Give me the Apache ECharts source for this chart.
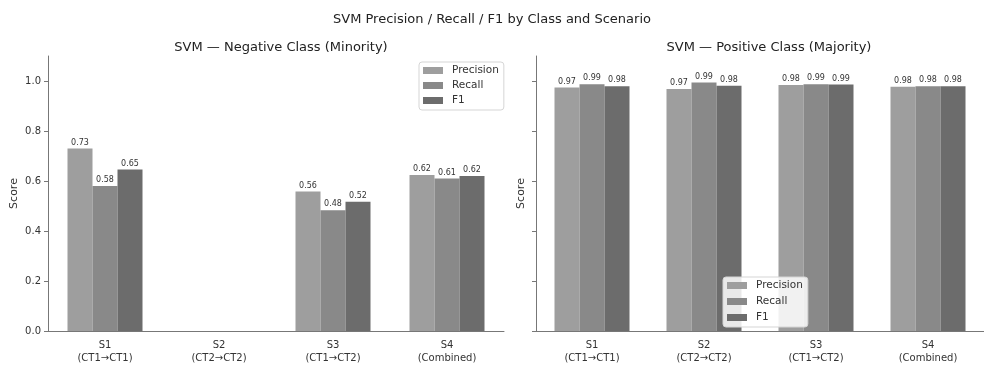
<!DOCTYPE html>
<html>
<head>
<meta charset="utf-8">
<script src="https://cdn.jsdelivr.net/npm/echarts@6/dist/echarts.min.js"></script>
<style>
html,body{margin:0;padding:0;background:#fff;}
#chart{width:984px;height:365px;}
</style>
</head>
<body>
<div id="chart"></div>
<script>
const categories = ['S1\n(CT1→CT1)', 'S2\n(CT2→CT2)', 'S3\n(CT1→CT2)', 'S4\n(Combined)'];
const metricNames = ['Precision', 'Recall', 'F1'];
const negPrecision = [0.73, null, 0.558, 0.624];
const negRecall = [0.58, null, 0.483, 0.61];
const negF1 = [0.646, null, 0.517, 0.62];
const posPrecision = [0.974, 0.968, 0.984, 0.977];
const posRecall = [0.987, 0.994, 0.987, 0.979];
const posF1 = [0.979, 0.981, 0.986, 0.979];
const yTicks = [0, 0.2, 0.4, 0.6, 0.8, 1.0];

const colors = ['#9e9e9e', '#898989', '#6c6c6c'];
const FONT = 'DejaVu Sans';
const textColor = '#333';
const axisColor = '#777';

function barSeries(name, data, idx, color) {
  return {
    name: name, type: 'bar', data: data,
    xAxisIndex: idx, yAxisIndex: idx,
    barWidth: 25, barGap: '0%',
    itemStyle: { color: color },
    label: {
      show: true, position: 'top', distance: 2,
      fontFamily: FONT, fontSize: 8, color: textColor,
      formatter: p => (p.value == null ? '' : Number(p.value).toFixed(2))
    },
    emphasis: { disabled: true }
  };
}

function xAxis(idx) {
  return {
    type: 'category', gridIndex: idx, data: categories,
    axisLine: { lineStyle: { color: axisColor, width: 1 } },
    axisTick: { alignWithLabel: true, length: 4, lineStyle: { color: axisColor } },
    axisLabel: { fontFamily: FONT, fontSize: 10, color: textColor, lineHeight: 13, margin: 8 }
  };
}
function yAxis(idx, showLabels) {
  return {
    type: 'value', gridIndex: idx, min: 0, max: 1.1, interval: 0.2,
    name: 'Score', nameLocation: 'middle', nameGap: showLabels ? 28 : 9,
    nameTextStyle: { fontFamily: FONT, fontSize: 11, color: textColor },
    axisLine: { show: true, lineStyle: { color: axisColor, width: 1 } },
    axisTick: { show: true, length: 4, customValues: yTicks, lineStyle: { color: axisColor } },
    axisLabel: { show: showLabels, customValues: yTicks, fontFamily: FONT, fontSize: 10, color: textColor, margin: 7,
      formatter: v => v.toFixed(1) },
    splitLine: { show: false }
  };
}
function legend(left, top, gap) {
  return {
    left: left, top: top, orient: 'vertical',
    data: metricNames, icon: 'rect', itemWidth: 20, itemHeight: 7, itemGap: gap,
    padding: [3, 5, 4, 4],
    backgroundColor: 'rgba(255,255,255,0.85)', borderColor: '#d5d5d5', borderWidth: 1, borderRadius: 3,
    textStyle: { fontFamily: FONT, fontSize: 10.5, color: textColor, padding: [0, 0, 0, 4] },
    selectedMode: false
  };
}

const chart = echarts.init(document.getElementById('chart'));
chart.setOption({
  animation: false,
  color: colors,
  title: [
    { text: 'SVM Precision / Recall / F1 by Class and Scenario', left: 'center', top: 8,
      textStyle: { fontFamily: FONT, fontSize: 13, fontWeight: 'normal', color: '#222' } },
    { text: 'SVM — Negative Class (Minority)', left: 276, top: 36, textAlign: 'center',
      textStyle: { fontFamily: FONT, fontSize: 13, fontWeight: 'normal', color: '#222' } },
    { text: 'SVM — Positive Class (Majority)', left: 764, top: 36, textAlign: 'center',
      textStyle: { fontFamily: FONT, fontSize: 13, fontWeight: 'normal', color: '#222' } }
  ],
  legend: [legend(419, 62, 4), legend(723, 277, 5)],
  grid: [
    { left: 48, top: 56, width: 456, height: 278 },
    { left: 536, top: 56, width: 456, height: 278 }
  ],
  xAxis: [xAxis(0), xAxis(1)],
  yAxis: [yAxis(0, true), yAxis(1, false)],
  series: [
    barSeries('Precision', negPrecision, 0, colors[0]),
    barSeries('Recall', negRecall, 0, colors[1]),
    barSeries('F1', negF1, 0, colors[2]),
    barSeries('Precision', posPrecision, 1, colors[0]),
    barSeries('Recall', posRecall, 1, colors[1]),
    barSeries('F1', posF1, 1, colors[2])
  ]
});
</script>
</body>
</html>
